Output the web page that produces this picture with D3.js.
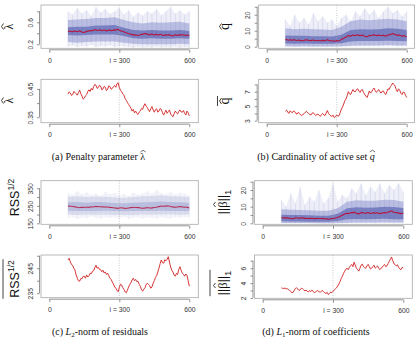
<!DOCTYPE html>
<html>
<head>
<meta charset="utf-8">
<script src="https://cdn.jsdelivr.net/npm/d3@7/dist/d3.min.js"></script>
<style>
  body { margin: 0; background: #fff; }
  svg { display: block; }
</style>
</head>
<body>
<svg id="fig" width="418" height="337"></svg>
<script>

// ---- data ----
var iSteps = [80,85,90,95,100,105,110,115,120,125,130,135,140,145,150,155,160,165,170,175,
  180,185,190,195,200,205,210,215,220,225,230,235,240,245,250,255,260,265,270,275,
  280,285,290,295,300,305,310,315,320,325,330,335,340,345,350,355,360,365,370,375,
  380,385,390,395,400,405,410,415,420,425,430,435,440,445,450,455,460,465,470,475,
  480,485,490,495,500,505,510,515,520,525,530,535,540,545,550,555,560,565,570,575,
  580,585,590,595,600];
var iBand = [80,120,160,200,240,280,320,360,400,440,480,520,560,600];
var iSpike = [80,100,120,140,160,180,200,220,240,260,280,300,320,340,360,380,400,420,440,460,
  480,500,520,540,560,580,600];

var xTicks = [0, 300, 600];
var xTickLabels = ["0", "i = 300", "600"];

// mean over runs (red lines)
var lambdaMean = [0.432,0.440,0.436,0.427,0.430,0.441,0.438,0.433,0.428,0.437,0.446,0.433,0.425,0.414,0.418,0.426,0.430,0.441,0.447,0.441,
  0.452,0.446,0.458,0.466,0.463,0.452,0.455,0.463,0.460,0.447,0.450,0.459,0.456,0.444,0.449,0.461,0.458,0.449,0.452,0.458,
  0.462,0.456,0.468,0.472,0.455,0.446,0.440,0.432,0.428,0.416,0.410,0.402,0.395,0.389,0.382,0.372,0.378,0.366,0.372,0.364,
  0.360,0.368,0.372,0.381,0.378,0.390,0.398,0.389,0.385,0.376,0.370,0.381,0.388,0.376,0.368,0.377,0.380,0.368,0.372,0.381,
  0.378,0.366,0.358,0.367,0.375,0.364,0.370,0.376,0.362,0.356,0.352,0.363,0.372,0.366,0.362,0.371,0.376,0.369,0.368,0.374,
  0.364,0.358,0.372,0.366,0.355];
var qMean = [4.3,4.45,4.2,4.0,4.35,4.2,4.1,4.35,4.25,4.0,3.9,4.15,4.0,3.8,3.7,3.85,3.95,4.15,4.3,4.1,
  4.0,3.85,3.8,4.05,4.1,3.9,3.7,3.85,3.9,3.75,3.6,3.85,4.0,3.8,3.7,4.05,4.4,4.0,3.8,3.65,
  3.6,3.75,3.4,3.55,3.8,3.6,3.7,4.1,4.6,4.9,5.3,5.75,6.0,6.45,7.0,6.7,6.6,7.0,7.3,7.0,
  7.0,7.3,7.4,7.1,6.9,7.2,7.3,6.9,6.6,6.4,6.2,6.6,7.1,6.8,7.0,7.3,7.5,7.15,6.9,7.1,
  7.3,7.0,6.8,7.05,7.1,6.8,6.6,7.0,7.4,7.3,7.7,7.9,8.2,8.0,7.8,7.3,7.0,7.4,7.2,6.8,
  6.6,6.95,6.9,6.5,6.2];
var rssMean = [248.3,249.0,247.6,246.5,246.2,245.0,244.3,242.3,241.0,240.0,239.8,240.9,240.8,241.7,241.8,241.0,242.3,241.5,242.0,243.0,
  242.8,243.8,244.0,245.2,246.2,245.0,245.4,244.5,244.4,243.6,244.2,243.1,243.5,242.5,243.0,242.0,241.0,240.5,239.5,238.7,
  237.5,237.0,236.2,235.6,237.2,238.6,238.3,237.2,236.5,235.5,235.2,236.3,237.5,238.5,239.2,240.3,241.0,240.0,240.5,239.6,
  239.8,238.6,237.8,236.5,235.8,236.6,237.2,238.4,239.0,238.5,238.0,237.0,237.5,239.0,240.0,241.3,242.0,243.5,245.0,246.8,
  248.3,247.2,247.0,248.4,248.0,248.6,249.6,247.5,245.5,244.2,243.5,242.3,241.8,242.9,242.5,244.6,245.6,244.2,243.0,242.6,
  241.8,242.7,242.2,240.0,237.8];
var betaMean = [3.35,3.3,3.25,3.35,3.2,3.25,3.1,3.0,2.85,2.7,2.75,3.05,3.3,3.35,3.2,3.0,3.1,3.3,3.25,3.1,
  2.95,3.05,2.9,2.8,3.0,2.85,3.05,2.9,2.7,2.8,2.9,3.0,2.85,2.75,2.9,3.0,2.8,2.7,2.6,2.75,
  2.45,2.6,2.8,2.7,2.9,3.05,3.2,3.35,3.6,3.85,4.2,4.6,4.9,5.3,5.6,5.85,6.0,5.8,6.1,6.35,
  6.5,6.2,6.8,6.4,6.0,5.8,5.6,6.0,6.4,6.55,6.2,6.05,6.0,6.3,6.5,6.2,5.9,6.0,6.2,6.4,
  6.0,6.15,6.3,6.0,5.8,6.0,6.1,6.35,6.5,6.2,6.3,6.6,6.9,7.2,7.5,7.0,6.6,6.5,6.3,6.45,
  6.1,5.9,5.8,6.1,6.0];

// spread of the individual runs (blue cloud)
var lambdaCoreLo = [0.37,0.36,0.37,0.38,0.38,0.38,0.35,0.31,0.30,0.31,0.30,0.30,0.31,0.30];
var lambdaCoreHi = [0.51,0.52,0.52,0.54,0.54,0.55,0.50,0.46,0.45,0.46,0.45,0.45,0.46,0.44];
var lambdaOuterLo = [0.24,0.23,0.24,0.25,0.25,0.25,0.23,0.21,0.20,0.20,0.20,0.20,0.21,0.20];
var lambdaOuterHi = [0.64,0.65,0.66,0.68,0.68,0.69,0.64,0.60,0.58,0.60,0.59,0.60,0.61,0.58];
var lambdaSpikeLo = [0.16,0.18,0.15,0.17,0.16,0.19,0.15,0.17,0.16,0.18,0.15,0.17,0.16,0.15,0.14,0.16,0.14,0.15,0.14,0.16,0.14,0.15,0.14,0.16,0.14,0.15,0.14];
var lambdaSpikeHi = [0.80,0.74,0.86,0.76,0.82,0.72,0.88,0.78,0.84,0.75,0.80,0.86,0.74,0.82,0.70,0.78,0.72,0.80,0.76,0.84,0.73,0.80,0.88,0.76,0.82,0.74,0.80];

var qCoreLo = [2.0,1.8,2.0,1.9,1.8,1.8,2.2,3.2,3.6,3.5,3.6,3.8,3.6,3.4];
var qCoreHi = [7.0,6.8,6.8,6.6,6.5,6.4,7.5,10.5,11.0,10.8,11.0,11.5,11.2,10.5];
var qOuterLo = [0.3,0.2,0.3,0.2,0.2,0.2,0.3,0.6,0.8,0.8,0.8,1.0,0.8,0.8];
var qOuterHi = [11.5,11.0,11.2,11.0,10.8,10.5,12.5,16.0,17.0,16.5,17.0,17.5,17.0,16.0];
var qSpikeLo = [0.0,0.1,0.0,0.0,0.1,0.0,0.0,0.1,0.0,0.0,0.1,0.0,0.0,0.1,0.2,0.3,0.2,0.3,0.2,0.3,0.2,0.3,0.2,0.3,0.2,0.3,0.2];
var qSpikeHi = [17,13,20,15,18,14,21,16,19,15,17,13,18,20,16,22,19,24,20,23,18,22,25,21,23,19,22];

var rssCoreLo = [222,220,221,220,222,221,219,220,221,220,222,221,220,221];
var rssCoreHi = [270,272,268,271,270,266,265,268,270,272,275,272,270,268];
var rssOuterLo = [200,198,200,199,201,198,197,198,200,199,201,200,199,200];
var rssOuterHi = [302,305,300,303,302,298,296,300,304,306,310,305,303,300];
var rssSpikeLo = [180,188,175,185,178,190,182,176,186,180,184,178,188,174,182,186,178,184,180,176,186,180,178,184,182,188,180];
var rssSpikeHi = [325,310,335,315,328,312,320,308,330,316,322,310,318,305,326,312,320,334,318,340,322,315,330,312,325,318,310];

var betaCoreLo = [1.2,1.1,1.1,1.0,1.0,1.0,1.4,2.4,2.6,2.5,2.6,2.7,2.5,2.4];
var betaCoreHi = [5.2,5.0,5.0,4.8,4.6,4.6,5.8,9.0,9.6,9.4,9.5,10.0,9.8,9.2];
var betaOuterLo = [0.2,0.2,0.2,0.2,0.1,0.1,0.2,0.4,0.5,0.5,0.5,0.6,0.5,0.5];
var betaOuterHi = [8.5,8.2,8.0,7.8,7.6,7.5,9.0,13.0,13.8,13.5,13.6,14.2,14.0,13.0];
var betaSpikeLo = [0.0,0.0,0.1,0.0,0.0,0.1,0.0,0.0,0.1,0.0,0.0,0.1,0.0,0.0,0.1,0.2,0.1,0.2,0.1,0.2,0.1,0.2,0.1,0.2,0.1,0.2,0.1];
var betaSpikeHi = [14,10,18,12,22,11,16,13,20,12,15,24,13,17,15,21,18,24,17,22,19,24,18,23,20,24,19];

// y ticks (every tick) and the ones that carry a label
var lambdaTopTicks = [0.2,0.4,0.6,0.8],   lambdaTopLabels = ["0.2","","0.6",""];
var lambdaBotTicks = [0.35,0.40,0.45],    lambdaBotLabels = ["0.35","","0.45"];
var qTopTicks = [0,5,10,15,20,25],        qTopLabels = ["0","","10","","20",""];
var qBotTicks = [3,4,5,6,7,8],            qBotLabels = ["3","","5","","7",""];
var rssTopTicks = [150,200,250,300,350],  rssTopLabels = ["150","","250","","350"];
var rssBotTicks = [235,240,245,250],      rssBotLabels = ["235","","245",""];
var betaTopTicks = [0,5,10,15,20,25],     betaTopLabels = ["0","","10","","20",""];
var betaBotTicks = [2,3,4,5,6,7],         betaBotLabels = ["2","","4","","6",""];

// ---- drawing ----
var svg = d3.select("#fig");
var defs = svg.append("defs");
defs.append("filter").attr("id", "soft")
    .attr("x", "-5%").attr("y", "-5%").attr("width", "110%").attr("height", "110%")
  .append("feGaussianBlur").attr("stdDeviation", 0.7);
var clipId = 0;

function panel(p) {
  var x = d3.scaleLinear().domain([0, 600]).range([p.x0, p.x600]);
  var y = d3.scaleLinear().domain(p.yDomain).range([p.bottom, p.top]);
  var g = svg.append("g");

  var id = "clip" + (clipId++);
  defs.append("clipPath").attr("id", id).append("rect")
      .attr("x", p.left).attr("y", p.top)
      .attr("width", p.right - p.left).attr("height", p.bottom - p.top);
  var inner = g.append("g").attr("clip-path", "url(#" + id + ")");

  if (p.cloud) {
    var c = p.cloud;
    var cg = inner.append("g").attr("filter", "url(#soft)");
    var area = d3.area()
        .x(function(d) { return x(d[0]); })
        .y0(function(d) { return y(d[1]); })
        .y1(function(d) { return y(d[2]); });
    // faint envelope of all runs
    cg.append("path").datum(d3.zip(iSpike, c.spLo, c.spHi))
        .attr("fill", c.cols[0]).attr("fill-opacity", 0.3).attr("d", area);
    // single runs poking out: thin vertical streaks
    cg.selectAll("line.spike").data(d3.zip(iSpike, c.spLo, c.spHi)).enter()
      .append("line").attr("class", "spike")
        .attr("x1", function(d) { return x(d[0]); })
        .attr("x2", function(d) { return x(d[0]); })
        .attr("y1", function(d) { return y(d[1]); })
        .attr("y2", function(d) { return y(d[2]); })
        .attr("stroke", c.cols[1]).attr("stroke-opacity", 0.28).attr("stroke-width", 0.7);
    cg.append("path").datum(d3.zip(iBand, c.oLo, c.oHi))
        .attr("fill", c.cols[1]).attr("fill-opacity", 0.5).attr("d", area);
    cg.append("path").datum(d3.zip(iBand, c.cLo, c.cHi))
        .attr("fill", c.cols[2]).attr("fill-opacity", 0.5).attr("d", area);
  }

  inner.append("line")
      .attr("x1", x(300)).attr("x2", x(300))
      .attr("y1", p.top).attr("y2", p.bottom)
      .attr("stroke", "#b5b5b5")
      .attr("stroke-width", 0.7)
      .attr("stroke-dasharray", "1,1.5");

  var line = d3.line()
      .x(function(d) { return x(d[0]); })
      .y(function(d) { return y(d[1]); });

  inner.append("path")
      .datum(d3.zip(iSteps, p.mean))
      .attr("fill", "none")
      .attr("stroke", p.meanColor)
      .attr("stroke-width", p.meanWidth)
      .attr("stroke-linejoin", "round")
      .attr("d", line);

  g.append("rect")
      .attr("x", p.left).attr("y", p.top)
      .attr("width", p.right - p.left).attr("height", p.bottom - p.top)
      .attr("fill", "none")
      .attr("stroke", "#a8a8a8")
      .attr("stroke-width", 0.8);

  // x axis, R style: line only between first and last tick
  var xa = g.append("g")
      .attr("transform", "translate(0," + (p.bottom + 1.5) + ")")
      .call(d3.axisBottom(x)
        .tickValues(xTicks)
        .tickFormat(function(d, i) { return xTickLabels[i]; })
        .tickSize(3).tickSizeOuter(0).tickPadding(5));
  xa.select(".domain").attr("d", "M" + x(0) + ",0H" + x(600));

  var ya = g.append("g")
      .attr("transform", "translate(" + (p.left - 1.5) + ",0)")
      .call(d3.axisLeft(y)
        .tickValues(p.yTicks)
        .tickFormat(function(d, i) { return p.yLabels[i]; })
        .tickSize(2.5).tickSizeOuter(0));
  ya.select(".domain").attr("d", "M0," + y(p.yTicks[0]) + "V" + y(p.yTicks[p.yTicks.length - 1]));
  ya.selectAll(".tick text")
      .attr("x", 0).attr("dy", null).attr("y", -7)
      .attr("text-anchor", "middle")
      .attr("transform", "rotate(-90)");

  [xa, ya].forEach(function(a) {
    a.selectAll("path, line").attr("stroke", "#666").attr("stroke-width", 0.7);
    a.selectAll("text").attr("fill", "#333")
        .style("font-family", "'Liberation Sans', Arial, sans-serif")
        .style("font-size", "6.8px");
  });
  return g;
}

var blueTop = ["#c3c6e6", "#858bcc", "#3a46a2"];
var blueRss = ["#dcdef0", "#bfc3e2", "#9aa0d0"];

function cloud(spLo, spHi, oLo, oHi, cLo, cHi, cols) {
  return {spLo: spLo, spHi: spHi, oLo: oLo, oHi: oHi, cLo: cLo, cHi: cHi, cols: cols};
}

// (a) penalty parameter
panel({left: 41, right: 198.3, x0: 49.3, x600: 189.3, top: 5, bottom: 48.3,
  yDomain: [0.127, 0.915], yTicks: lambdaTopTicks, yLabels: lambdaTopLabels,
  mean: lambdaMean, meanColor: "#b8123a", meanWidth: 1.1,
  cloud: cloud(lambdaSpikeLo, lambdaSpikeHi, lambdaOuterLo, lambdaOuterHi, lambdaCoreLo, lambdaCoreHi, blueTop)});
panel({left: 41, right: 198.3, x0: 49.3, x600: 189.3, top: 79.3, bottom: 122.7,
  yDomain: [0.331, 0.484], yTicks: lambdaBotTicks, yLabels: lambdaBotLabels,
  mean: lambdaMean, meanColor: "#d02020", meanWidth: 0.9});

// (b) cardinality of active set
panel({left: 258.7, right: 414.5, x0: 266.7, x600: 406.7, top: 5, bottom: 48.3,
  yDomain: [-1, 26.1], yTicks: qTopTicks, yLabels: qTopLabels,
  mean: qMean, meanColor: "#b8123a", meanWidth: 1.1,
  cloud: cloud(qSpikeLo, qSpikeHi, qOuterLo, qOuterHi, qCoreLo, qCoreHi, blueTop)});
panel({left: 258.7, right: 414.5, x0: 266.7, x600: 406.7, top: 79.3, bottom: 122.7,
  yDomain: [2.72, 8.71], yTicks: qBotTicks, yLabels: qBotLabels,
  mean: qMean, meanColor: "#d02020", meanWidth: 0.9});

// (c) L2-norm of residuals
panel({left: 41, right: 198.3, x0: 49.3, x600: 189.3, top: 180.7, bottom: 224.3,
  yDomain: [144.3, 393.4], yTicks: rssTopTicks, yLabels: rssTopLabels,
  mean: rssMean, meanColor: "#b8123a", meanWidth: 1.0,
  cloud: cloud(rssSpikeLo, rssSpikeHi, rssOuterLo, rssOuterHi, rssCoreLo, rssCoreHi, blueRss)});
panel({left: 41, right: 198.3, x0: 49.3, x600: 189.3, top: 255, bottom: 297.7,
  yDomain: [233.2, 250.3], yTicks: rssBotTicks, yLabels: rssBotLabels,
  mean: rssMean, meanColor: "#d02020", meanWidth: 0.9});

// (d) L1-norm of coefficients
panel({left: 254.5, right: 412.3, x0: 262.7, x600: 403.3, top: 180.7, bottom: 224.3,
  yDomain: [-0.6, 25.6], yTicks: betaTopTicks, yLabels: betaTopLabels,
  mean: betaMean, meanColor: "#b8123a", meanWidth: 1.1,
  cloud: cloud(betaSpikeLo, betaSpikeHi, betaOuterLo, betaOuterHi, betaCoreLo, betaCoreHi, blueTop)});
panel({left: 254.5, right: 412.3, x0: 262.7, x600: 403.3, top: 255, bottom: 298.3,
  yDomain: [1.95, 7.77], yTicks: betaBotTicks, yLabels: betaBotLabels,
  mean: betaMean, meanColor: "#d02020", meanWidth: 0.9});

// ---- y axis titles (rotated, with hats / bars drawn as strokes) ----
var serif = "'Liberation Serif', 'DejaVu Serif', serif";
var sans = "'Liberation Sans', Arial, sans-serif";

function strokeMark(g, d) {
  g.append("path").attr("d", d).attr("fill", "none")
      .attr("stroke", "#111").attr("stroke-width", 0.8);
}

function symbolLabel(bx, cy, ch, size, hatY, bar) {
  var g = svg.append("g").attr("transform", "translate(" + bx + "," + cy + ") rotate(-90)");
  g.append("text").attr("text-anchor", "middle")
      .style("font-family", serif).style("font-size", size + "px")
      .attr("fill", "#111").text(ch);
  strokeMark(g, "M-3," + hatY + "L0," + (hatY - 2) + "L3," + hatY);
  if (bar) strokeMark(g, "M-5," + (hatY - 4) + "H5");
}

symbolLabel(12.5, 26.5, "λ", 12, -9, false);
symbolLabel(12.5, 100.5, "λ", 12, -9, true);
symbolLabel(229, 26.5, "q", 14, -7.5, false);
symbolLabel(229, 101, "q", 14, -7.5, true);

function rssLabel(bx, cy, bar) {
  var g = svg.append("g").attr("transform", "translate(" + bx + "," + cy + ") rotate(-90)");
  var t = g.append("text").attr("text-anchor", "middle")
      .style("font-family", sans).style("font-size", "12.5px").attr("fill", "#111");
  t.append("tspan").text("RSS");
  t.append("tspan").attr("dy", -5).style("font-size", "8.5px").text("1/2");
  if (bar) {
    var w = t.node().getComputedTextLength();
    strokeMark(g, "M" + (-w / 2 - 1) + ",-16H" + (w / 2 + 1));
  }
}
rssLabel(19, 197.5, false);
rssLabel(19, 279, true);

function betaLabel(bx, cy, bar) {
  var g = svg.append("g").attr("transform", "translate(" + bx + "," + cy + ") rotate(-90)");
  var t = g.append("text").attr("text-anchor", "middle")
      .style("font-family", sans).style("font-size", "12.5px").attr("fill", "#111");
  t.append("tspan").text("||");
  t.append("tspan").style("font-family", serif).text("β");
  t.append("tspan").text("||");
  t.append("tspan").attr("dy", 4).style("font-size", "9px").text("1");
  var node = t.node();
  var s = node.getStartPositionOfChar(2).x, e = node.getEndPositionOfChar(2).x;
  var c = (s + e) / 2;
  strokeMark(g, "M" + (c - 2.5) + ",-11L" + c + ",-13L" + (c + 2.5) + ",-11");
  if (bar) {
    var w = node.getComputedTextLength();
    strokeMark(g, "M" + (-w / 2 - 1) + ",-16.5H" + (w / 2 + 1));
  }
}
betaLabel(226.5, 202, false);
betaLabel(226.5, 283, true);

// ---- sub-figure captions ----
function caption(cx, by, parts, hatIndex) {
  var t = svg.append("text").attr("x", cx).attr("y", by).attr("text-anchor", "middle")
      .style("font-family", serif).style("font-size", "10px").attr("fill", "#111");
  parts.forEach(function(p) {
    var s = t.append("tspan").text(p.t);
    if (p.i) s.style("font-style", "italic");
    if (p.dy) s.attr("dy", p.dy);
    if (p.fs) s.style("font-size", p.fs);
  });
  if (hatIndex !== undefined) {
    var node = t.node();
    var s0 = node.getStartPositionOfChar(hatIndex).x, e0 = node.getEndPositionOfChar(hatIndex).x;
    var c = (s0 + e0) / 2 + 0.3;
    svg.append("path")
        .attr("d", "M" + (c - 2.6) + "," + (by - 8) + "L" + c + "," + (by - 9.8) + "L" + (c + 2.6) + "," + (by - 8))
        .attr("fill", "none").attr("stroke", "#111").attr("stroke-width", 0.6);
  }
}
caption(98.5, 160, [{t: "(a) Penalty parameter "}, {t: "λ"}], 22);
caption(316, 160, [{t: "(b) Cardinality of active set "}, {t: "q", i: true}], 30);
caption(100, 334.5, [{t: "(c) "}, {t: "L", i: true}, {t: "2", dy: 2, fs: "7px"}, {t: "-norm of residuals", dy: -2}]);
caption(316, 334.5, [{t: "(d) "}, {t: "L", i: true}, {t: "1", dy: 2, fs: "7px"}, {t: "-norm of coefficients", dy: -2}]);

</script>
</body>
</html>
